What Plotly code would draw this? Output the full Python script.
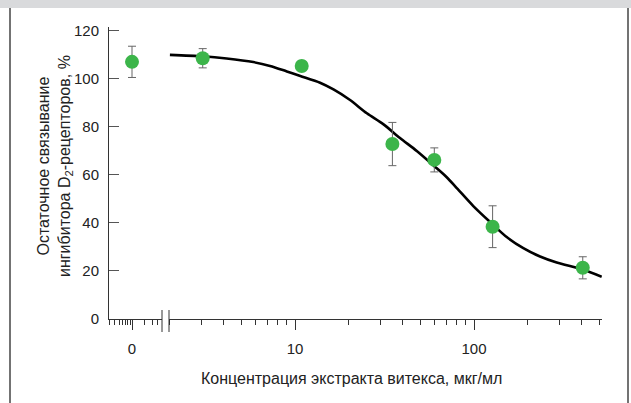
import plotly.graph_objects as go

# ---- data -------------------------------------------------------------
# zero-concentration control (shown on the short stub axis labelled "0")
control_label = ["0"]
control_binding = [107.0]
control_err = [6.5]

# extract concentration, µg/ml, and residual binding, %
conc = [3.05, 10.9, 35.0, 60.0, 127.0, 405.0]
binding = [108.5, 105.3, 72.8, 66.2, 38.4, 21.3]
binding_err = [4.0, 2.0, 9.0, 5.0, 8.7, 4.6]

# fitted dose-response curve
fit_conc = [2.0, 3.05, 4.15, 5.85, 7.25, 9.0, 10.7, 13.8, 16.4, 20.3, 25.2,
            31.1, 38.6, 47.9, 59.8, 70.4, 80.1, 99.1, 126.6, 152.3, 188.6,
            233.8, 289.7, 404.9, 516.8]
fit_binding = [109.9, 109.3, 108.4, 106.9, 105.3, 103.0, 101.1, 98.3, 95.5,
               91.1, 85.6, 81.1, 75.3, 69.9, 63.7, 59.0, 54.5, 47.0, 39.5,
               34.1, 29.5, 26.0, 23.5, 20.6, 17.6]

y_ticks = [0, 20, 40, 60, 80, 100, 120]
x_ticks = [10, 100]
x_ticktext = ["10", "100"]

x_title = "Концентрация экстракта витекса, мкг/мл"
y_title = "Остаточное связывание<br>ингибитора D<sub>2</sub>-рецепторов, %"

# ---- styling ----------------------------------------------------------
W, H = 631, 403
FONT = "Liberation Sans, Arial, Helvetica, sans-serif"
INK = "#222222"
AXIS = "#333333"
GREEN = "#3cb54a"


def fx(px):
    return px / W


def fy(px):
    return 1 - px / H


stub_pos = [1]  # log-stub position that carries the "0" label
stub_minor = [0.3, 0.4, 0.5, 0.6, 0.7, 0.8, 0.9, 2, 3, 4]
main_minor = [2, 3, 4, 5, 6, 7, 8, 9, 20, 30, 40, 50, 60, 70, 80, 90,
              200, 300, 400, 500]

fig = go.Figure()

fig.add_trace(go.Scatter(
    x=fit_conc, y=fit_binding, xaxis="x2", yaxis="y",
    mode="lines", line=dict(color="black", width=2.6, shape="spline", smoothing=0.8),
    hoverinfo="skip", showlegend=False,
))

err_style = dict(type="data", visible=True, color="#666666", thickness=1, width=4)

fig.add_trace(go.Scatter(
    x=stub_pos, y=control_binding, xaxis="x", yaxis="y",
    mode="markers", marker=dict(color=GREEN, size=14),
    error_y=dict(array=control_err, **err_style),
    text=control_label, showlegend=False,
))

fig.add_trace(go.Scatter(
    x=conc, y=binding, xaxis="x2", yaxis="y",
    mode="markers", marker=dict(color=GREEN, size=14),
    error_y=dict(array=binding_err, **err_style),
    showlegend=False,
))

tickfont = dict(family=FONT, size=15, color=INK)
titlefont = dict(family=FONT, size=16, color=INK)
common_x = dict(
    showline=True, linecolor=AXIS, linewidth=1, showgrid=False, zeroline=False,
    ticks="outside", ticklen=10, tickcolor=AXIS, tickwidth=1,
    tickfont=tickfont, anchor="y", automargin=False, ticklabelstandoff=6,
)

fig.update_layout(
    width=W, height=H, autosize=False,
    margin=dict(l=0, r=0, t=0, b=0, pad=0),
    paper_bgcolor="white", plot_bgcolor="white",
    font=dict(family=FONT, color=INK, size=15),
    xaxis=dict(
        domain=[fx(109), fx(162)], type="log", range=[-0.535, 0.698],
        tickmode="array", tickvals=stub_pos, ticktext=control_label,
        minor=dict(tickmode="array", tickvals=stub_minor, ticks="outside",
                   ticklen=5, tickcolor=AXIS, tickwidth=1, showgrid=False),
        **common_x,
    ),
    xaxis2=dict(
        domain=[fx(169), fx(602)], type="log", range=[0.296, 2.715],
        tickmode="array", tickvals=x_ticks, ticktext=x_ticktext,
        minor=dict(tickmode="array", tickvals=main_minor, ticks="outside",
                   ticklen=5, tickcolor=AXIS, tickwidth=1, showgrid=False),
        **common_x,
    ),
    yaxis=dict(
        domain=[fy(319), fy(27)], range=[0, 121.5], anchor="x",
        tickmode="array", tickvals=y_ticks,
        showline=True, linecolor=AXIS, linewidth=1, showgrid=False, zeroline=False,
        ticks="inside", ticklen=10, tickcolor="#555555", tickwidth=1,
        tickfont=tickfont, automargin=False, ticklabelstandoff=6,
    ),
    annotations=[
        dict(text=x_title, xref="paper", yref="paper", x=fx(351), y=fy(378),
             xanchor="center", yanchor="middle", showarrow=False,
             font=titlefont),
        dict(text=y_title, xref="paper", yref="paper", x=fx(55), y=fy(166),
             xanchor="center", yanchor="middle", showarrow=False, textangle=-90,
             align="center", font=titlefont),
    ],
    shapes=[
        # top band and side rules of the panel
        dict(type="rect", xref="paper", yref="paper", x0=0, x1=1, y0=fy(8), y1=1,
             fillcolor="#d9dadc", line=dict(width=0), layer="below"),
        dict(type="line", xref="paper", yref="paper", x0=fx(10), x1=fx(10),
             y0=fy(8), y1=0, line=dict(color="#444444", width=1.5)),
        dict(type="line", xref="paper", yref="paper", x0=fx(628), x1=fx(628),
             y0=fy(8), y1=0, line=dict(color="#444444", width=1.5)),
        # axis break marks
        dict(type="line", xref="paper", yref="paper", x0=fx(162), x1=fx(162),
             y0=fy(310), y1=fy(332), line=dict(color=AXIS, width=1)),
        dict(type="line", xref="paper", yref="paper", x0=fx(169), x1=fx(169),
             y0=fy(310), y1=fy(332), line=dict(color=AXIS, width=1)),
    ],
)

fig.write_html("out.html")
